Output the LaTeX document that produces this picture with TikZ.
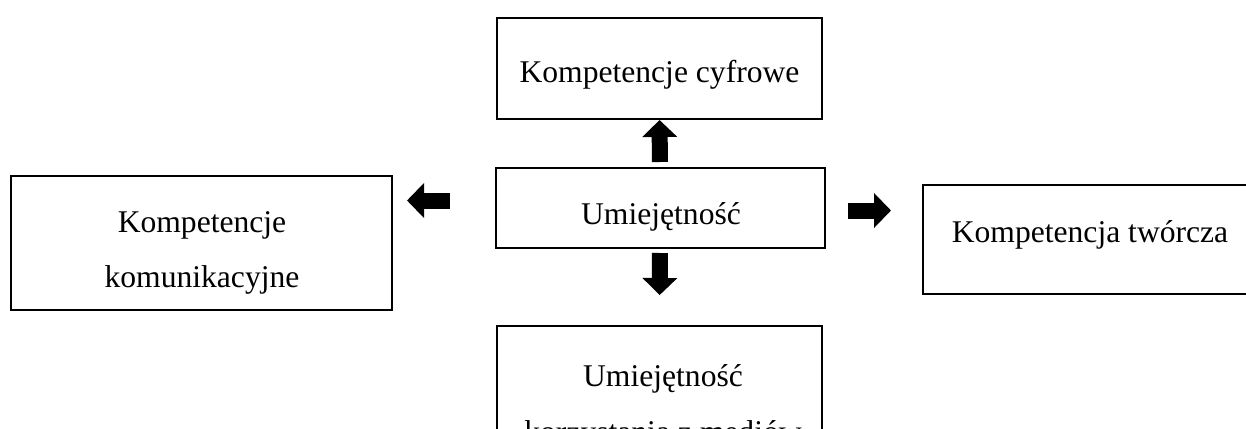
\documentclass[tikz,border=0pt]{standalone}
\usepackage{fontspec}
\setmainfont{Liberation Serif}
\usetikzlibrary{arrows.meta}

\tikzset{
    box/.style={draw, line width=1pt, inner sep=0pt},
    caption/.style={anchor=base, inner sep=0pt, font=\fontsize{15.8}{19}\selectfont},
    blockarrow/.style={line width=8pt, -{Triangle[width=17pt, length=8.5pt]}}
}

\begin{document}
\begin{tikzpicture}[x=0.5pt, y=-0.5pt]
    \clip (0,0) rectangle (1246,428);

    % Draw the boxes
    \node[box, minimum width=162.5pt, minimum height=50.5pt] (cyfrowe) at (659.5,68.5) {};
    \node[box, minimum width=164.5pt, minimum height=40pt] (umiej) at (660,208) {};
    \node[box, minimum width=190.5pt, minimum height=67pt] (komunik) at (201.5,243) {};
    \node[box, minimum width=167pt, minimum height=54.5pt] (tworcza) at (1090,239.5) {};
    \node[box, minimum width=162.5pt, minimum height=67pt] (media) at (659.5,393) {};

    % Write the texts line by line
    \foreach \x/\y/\txt [count=\i] in {659.5/82/{Kompetencje cyfrowe}, 661/224/{Umiejętność},
        202/232/{Kompetencje}, 202/287/{komunikacyjne}, 1090/242/{Kompetencja twórcza},
        663/386/{Umiejętność}, 663/442/{korzystania z mediów}} {
        \node[caption] (text-\i) at (\x,\y) {\txt};
    }

    % Arrows from the middle box
    \draw[blockarrow, shorten <=2.5pt] (umiej.north) -- (cyfrowe.south);
    \draw[blockarrow, shorten <=2pt, shorten >=15pt] (umiej.south) -- (media.north);
    \draw[blockarrow, shorten <=22.5pt, shorten >=7pt] ([yshift=3.75pt]umiej.west) -- ([yshift=3.75pt]umiej.west -| komunik.east);
    \draw[blockarrow, shorten <=11pt, shorten >=15.5pt] ([yshift=-1.25pt]umiej.east) -- ([yshift=-1.25pt]umiej.east -| tworcza.west);
\end{tikzpicture}
\end{document}
